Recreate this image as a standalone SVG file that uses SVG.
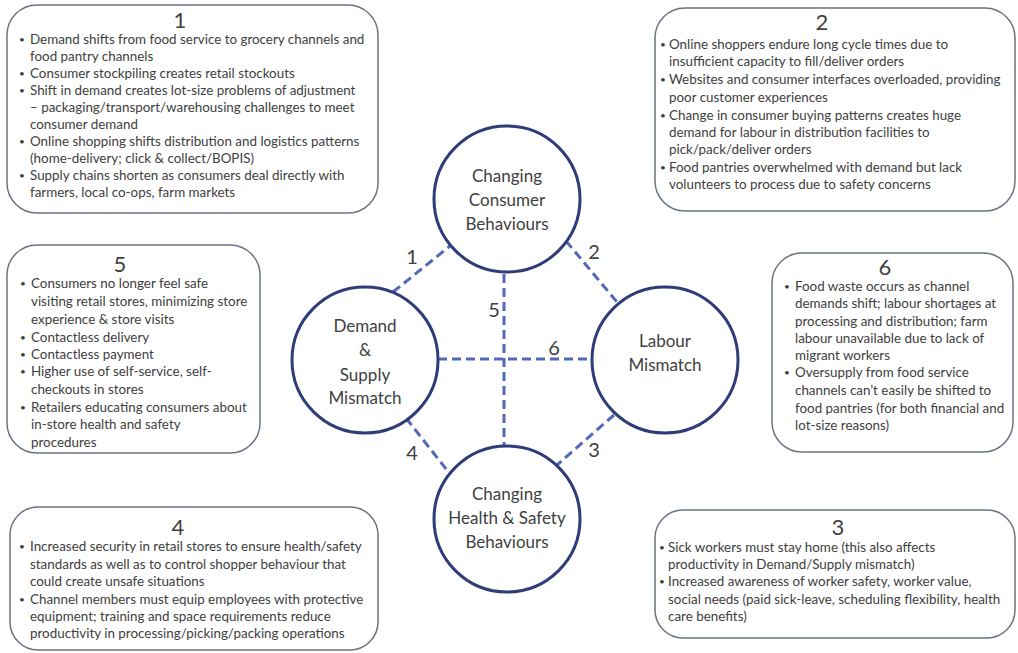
<svg xmlns="http://www.w3.org/2000/svg" width="1018" height="653" viewBox="0 0 1018 653">
<style>
.box{fill:#fff;stroke:#6b7284;stroke-width:1.5}
.t{font-family:Lato,"Liberation Sans",sans-serif;font-size:13.4px;fill:#404040}
.b{font-family:Lato,"Liberation Sans",sans-serif;font-size:10px;fill:#404040}
.h{font-family:Lato,"Liberation Sans",sans-serif;font-size:22px;fill:#404040;text-anchor:middle}
.c{fill:#fff;stroke:#2e3c78;stroke-width:3}
.ct{font-family:Lato,"Liberation Sans",sans-serif;font-size:17px;fill:#404040;text-anchor:middle}
.d{stroke:#5468b8;stroke-width:3;stroke-dasharray:9 5;fill:none}
.n{font-family:Lato,"Liberation Sans",sans-serif;font-size:20px;fill:#404040;text-anchor:middle}
</style>
<rect width="1018" height="653" fill="#fff"/>
<g id="connectors">
<line class="d" x1="393" y1="292" x2="450" y2="246"/>
<line class="d" x1="566" y1="241" x2="617" y2="302"/>
<line class="d" x1="614" y1="415" x2="557" y2="465"/>
<line class="d" x1="406" y1="418" x2="450" y2="474"/>
<line class="d" x1="504" y1="274" x2="504" y2="446"/>
<line class="d" x1="438" y1="359" x2="592" y2="359"/>
<text class="n" x="412" y="264">1</text>
<text class="n" x="594" y="259">2</text>
<text class="n" x="594" y="457">3</text>
<text class="n" x="412" y="460">4</text>
<text class="n" x="494" y="317">5</text>
<text class="n" x="554" y="355">6</text>
</g>
<g id="node-consumer">
<circle class="c" cx="507" cy="199" r="73"/>
<text class="ct" x="507" y="182">Changing</text>
<text class="ct" x="507" y="206">Consumer</text>
<text class="ct" x="507" y="230">Behaviours</text>
</g>
<g id="node-demand">
<circle class="c" cx="365" cy="360" r="73"/>
<text class="ct" x="365" y="332">Demand</text>
<text class="ct" x="365" y="356">&amp;</text>
<text class="ct" x="365" y="381">Supply</text>
<text class="ct" x="365" y="404">Mismatch</text>
</g>
<g id="node-labour">
<circle class="c" cx="665" cy="360" r="73"/>
<text class="ct" x="665" y="347">Labour</text>
<text class="ct" x="665" y="371">Mismatch</text>
</g>
<g id="node-health">
<circle class="c" cx="507" cy="519" r="73"/>
<text class="ct" x="507" y="500">Changing</text>
<text class="ct" x="507" y="524">Health &amp; Safety</text>
<text class="ct" x="507" y="548">Behaviours</text>
</g>
<g id="box-1">
<rect class="box" x="7" y="5" width="371" height="208" rx="30"/>
<text class="h" x="180" y="28">1</text>
<text class="b" x="19" y="43">•</text><text class="t" x="30" y="44">Demand shifts from food service to grocery channels and</text>
<text class="t" x="30" y="61">food pantry channels</text>
<text class="b" x="19" y="77">•</text><text class="t" x="30" y="78">Consumer stockpiling creates retail stockouts</text>
<text class="b" x="19" y="94">•</text><text class="t" x="30" y="95">Shift in demand creates lot-size problems of adjustment</text>
<text class="t" x="30" y="112">– packaging/transport/warehousing challenges to meet</text>
<text class="t" x="30" y="129">consumer demand</text>
<text class="b" x="19" y="145">•</text><text class="t" x="30" y="146">Online shopping shifts distribution and logistics patterns</text>
<text class="t" x="30" y="163">(home-delivery; click &amp; collect/BOPIS)</text>
<text class="b" x="19" y="179">•</text><text class="t" x="30" y="180">Supply chains shorten as consumers deal directly with</text>
<text class="t" x="30" y="197">farmers, local co-ops, farm markets</text>
</g>
<g id="box-2">
<rect class="box" x="655" y="8" width="360" height="203" rx="30"/>
<text class="h" x="822" y="30">2</text>
<text class="b" x="660" y="48">•</text><text class="t" x="669" y="49">Online shoppers endure long cycle times due to</text>
<text class="t" x="669" y="66">insufficient capacity to fill/deliver orders</text>
<text class="b" x="660" y="83">•</text><text class="t" x="669" y="84">Websites and consumer interfaces overloaded, providing</text>
<text class="t" x="669" y="102">poor customer experiences</text>
<text class="b" x="660" y="119">•</text><text class="t" x="669" y="120">Change in consumer buying patterns creates huge</text>
<text class="t" x="669" y="137">demand for labour in distribution facilities to</text>
<text class="t" x="669" y="154">pick/pack/deliver orders</text>
<text class="b" x="660" y="171">•</text><text class="t" x="669" y="172">Food pantries overwhelmed with demand but lack</text>
<text class="t" x="669" y="189">volunteers to process due to safety concerns</text>
</g>
<g id="box-5">
<rect class="box" x="7" y="245" width="253" height="208" rx="30"/>
<text class="h" x="120" y="272">5</text>
<text class="b" x="20" y="287">•</text><text class="t" x="31" y="288">Consumers no longer feel safe</text>
<text class="t" x="31" y="306">visiting retail stores, minimizing store</text>
<text class="t" x="31" y="324">experience &amp; store visits</text>
<text class="b" x="20" y="341">•</text><text class="t" x="31" y="342">Contactless delivery</text>
<text class="b" x="20" y="358">•</text><text class="t" x="31" y="359">Contactless payment</text>
<text class="b" x="20" y="375">•</text><text class="t" x="31" y="376">Higher use of self-service, self-</text>
<text class="t" x="31" y="394">checkouts in stores</text>
<text class="b" x="20" y="411">•</text><text class="t" x="31" y="412">Retailers educating consumers about</text>
<text class="t" x="31" y="429">in-store health and safety</text>
<text class="t" x="31" y="447">procedures</text>
</g>
<g id="box-6">
<rect class="box" x="772" y="253" width="241" height="199" rx="30"/>
<text class="h" x="885" y="275">6</text>
<text class="b" x="784" y="290">•</text><text class="t" x="795" y="291">Food waste occurs as channel</text>
<text class="t" x="795" y="308">demands shift; labour shortages at</text>
<text class="t" x="795" y="326">processing and distribution; farm</text>
<text class="t" x="795" y="343">labour unavailable due to lack of</text>
<text class="t" x="795" y="360">migrant workers</text>
<text class="b" x="784" y="376">•</text><text class="t" x="795" y="377">Oversupply from food service</text>
<text class="t" x="795" y="395">channels can’t easily be shifted to</text>
<text class="t" x="795" y="413">food pantries (for both financial and</text>
<text class="t" x="795" y="430">lot-size reasons)</text>
</g>
<g id="box-4">
<rect class="box" x="10" y="507" width="368" height="143" rx="28"/>
<text class="h" x="178" y="535">4</text>
<text class="b" x="19" y="550">•</text><text class="t" x="30" y="551">Increased security in retail stores to ensure health/safety</text>
<text class="t" x="30" y="569">standards as well as to control shopper behaviour that</text>
<text class="t" x="30" y="586">could create unsafe situations</text>
<text class="b" x="19" y="603">•</text><text class="t" x="30" y="604">Channel members must equip employees with protective</text>
<text class="t" x="30" y="621">equipment; training and space requirements reduce</text>
<text class="t" x="30" y="638">productivity in processing/picking/packing operations</text>
</g>
<g id="box-3">
<rect class="box" x="655" y="510" width="360" height="128" rx="28"/>
<text class="h" x="838" y="535">3</text>
<text class="b" x="659" y="551">•</text><text class="t" x="668" y="552">Sick workers must stay home (this also affects</text>
<text class="t" x="668" y="569">productivity in Demand/Supply mismatch)</text>
<text class="b" x="659" y="585">•</text><text class="t" x="668" y="586">Increased awareness of worker safety, worker value,</text>
<text class="t" x="668" y="604">social needs (paid sick-leave, scheduling flexibility, health</text>
<text class="t" x="668" y="621">care benefits)</text>
</g>
</svg>
